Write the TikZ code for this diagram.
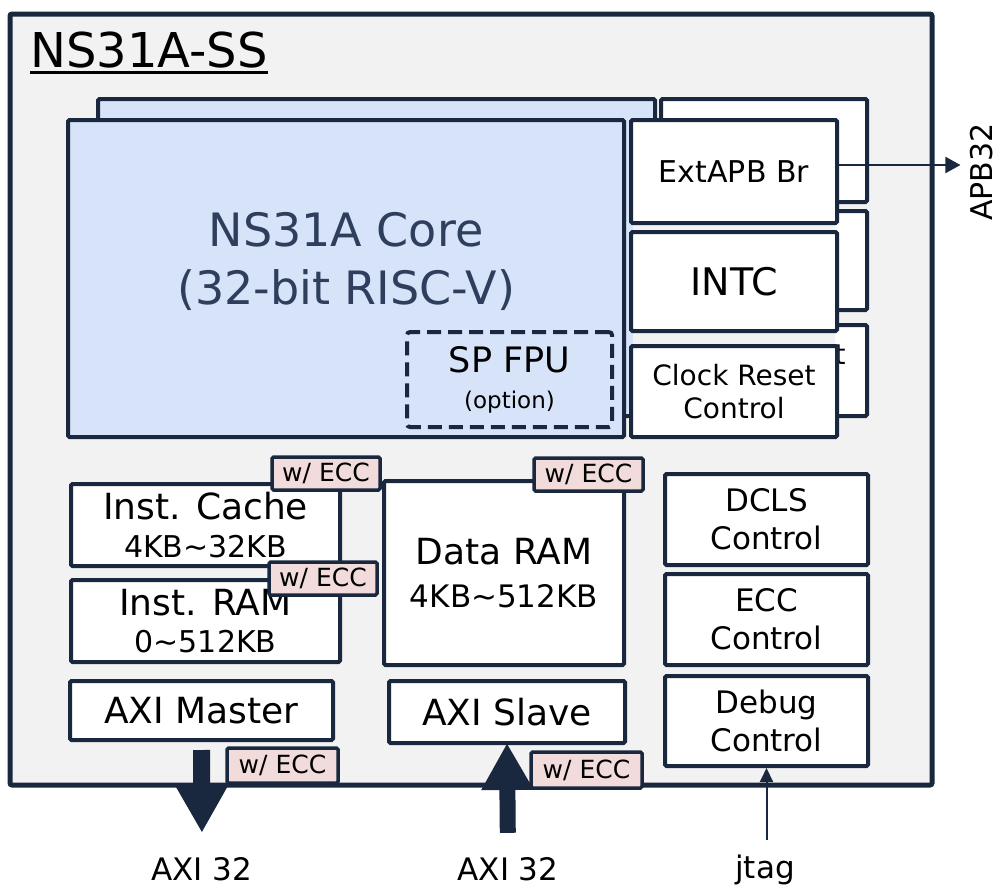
\documentclass[tikz,border=0pt]{standalone}
\usepackage{fontspec}
\setmainfont{DejaVu Sans}
\usetikzlibrary{arrows.meta}
\definecolor{navy}{RGB}{25,40,62}
\definecolor{bgray}{RGB}{242,242,242}
\definecolor{lblue}{RGB}{214,227,248}
\definecolor{pinkecc}{RGB}{242,220,219}
\definecolor{coretxt}{RGB}{46,62,92}
\newcommand\fsz[2]{\fontsize{#1}{#2}\selectfont}
\begin{document}
\begin{tikzpicture}[x=1pt,y=-1pt,
  blk/.style={draw=navy, line width=4pt, fill=white, inner sep=0pt, align=center, rounded corners=1.5pt},
  ecc/.style={draw=navy, line width=3.5pt, fill=pinkecc, inner sep=0pt, minimum width=108pt, minimum height=33pt, font=\fsz{25}{30}, rounded corners=1.5pt},
  lbl/.style={inner sep=0pt, font=\fsz{31}{37}},
  fat/.style={draw=navy, line width=17pt, -{Triangle[length=47pt,width=49pt]}},
  thin/.style={draw=navy, line width=2pt},
]
\useasboundingbox (0,0) rectangle (998,886);

% outer subsystem
\node[draw=navy, line width=5pt, fill=bgray, minimum width=922pt, minimum height=771pt, inner sep=0pt, rounded corners=2pt] (outer) at (471,399.5) {};
\node[anchor=base west, inner sep=0pt, font=\fsz{48}{56}] (title) at (30,67) {NS31A-SS};
\draw[line width=3pt] ([yshift=-5pt]title.base west) -- ([yshift=-5pt]title.base east);

% back (lockstep) copies
\node[blk, fill=lblue, minimum width=557pt, minimum height=317pt] (coreback) at (376.5,257.5) {};
\node[blk, minimum width=206pt, minimum height=103pt, font=\fsz{30}{36}] (extb) at (764,150.5) {ExtAPB Br};
\node[blk, minimum width=206pt, minimum height=99pt, font=\fsz{38}{44}] (intcb) at (764,260.5) {INTC};
\node[blk, minimum width=206pt, minimum height=91pt, font=\fsz{28}{33}] (crcb) at (764,370.5) {Clock Reset\\Control};
\fill[bgray] (633,118) rectangle (835,439);

% front core
\node[blk, fill=lblue, minimum width=556pt, minimum height=317pt] (core) at (346,278.5) {};
\node[inner sep=0pt, align=center, text=coretxt, font=\fsz{46}{58}] (coretext) at (346,261) {NS31A Core\\(32-bit RISC-V)};
\node[draw=navy, line width=4pt, dash pattern=on 14pt off 7pt, rounded corners=3pt, minimum width=205pt, minimum height=95pt, inner sep=0pt, align=center, font=\fsz{35}{36}] (fpu) at (509.5,379.5) {SP FPU\\{\fsz{23}{36}(option)}};

\node[blk, minimum width=206pt, minimum height=103pt, font=\fsz{30}{36}] (ext) at (734,171.5) {ExtAPB Br};
\node[blk, minimum width=206pt, minimum height=99pt, font=\fsz{38}{44}] (intc) at (734,281.5) {INTC};
\node[blk, minimum width=206pt, minimum height=91pt, font=\fsz{28}{33}] (crc) at (734,391.5) {Clock Reset\\Control};

% memories and bus interfaces
\node[blk, minimum width=269pt, minimum height=82pt, font=\fsz{36}{38}] (icache) at (205.5,525) {Inst. Cache\\{\fsz{30}{38}4KB\textasciitilde 32KB}};
\node[blk, minimum width=269pt, minimum height=82pt, font=\fsz{36}{37}] (iram) at (205.5,621) {Inst. RAM\\{\fsz{30}{37}0\textasciitilde 512KB}};
\node[blk, minimum width=240pt, minimum height=184pt, font=\fsz{36}{43}] (dram) at (504,573) {Data RAM\\{\fsz{31}{43}4KB\textasciitilde 512KB}};
\node[blk, minimum width=263pt, minimum height=59pt, font=\fsz{36}{42}] (axim) at (201.5,710.5) {AXI Master};
\node[blk, minimum width=236pt, minimum height=62pt, font=\fsz{36}{42}] (axis) at (507,712) {AXI Slave};

% control blocks
\node[blk, minimum width=203pt, minimum height=91pt, font=\fsz{31}{38}] (dcls) at (766.5,519.5) {DCLS\\Control};
\node[blk, minimum width=203pt, minimum height=91pt, font=\fsz{31}{38}] (eccc) at (766.5,619.5) {ECC\\Control};
\node[blk, minimum width=203pt, minimum height=90pt, font=\fsz{31}{38}] (debug) at (766.5,721) {Debug\\Control};

% ECC tags
\node[ecc] (t1) at (326,473.5) {w/ ECC};
\node[ecc] (t2) at (323,578.5) {w/ ECC};
\node[ecc, minimum width=109pt] (t3) at (588.5,474.5) {w/ ECC};
\node[ecc, minimum width=111pt, minimum height=35pt] (t4) at (282.5,765.5) {w/ ECC};
\node[ecc, minimum width=111pt, minimum height=36pt] (t5) at (586.5,770) {w/ ECC};

% external labels
\node[lbl, anchor=base] (axil) at (202,880) {AXI 32};
\node[lbl, anchor=base] (axir) at (508,880) {AXI 32};
\node[lbl, anchor=base] (jtag) at (765,878) {jtag};
\node[inner sep=0pt, rotate=90, font=\fsz{30}{36}] (apb) at (982,172) {APB32};

% connectors
\draw[fat, shorten <=8pt, shorten >=24pt] (axim.south) -- (axil.north);
\draw[fat, line width=16pt, shorten <=24pt, shorten >=-2pt] (axir.north) -- (axis.south);
\draw[thin, -{Triangle[length=14pt,width=13pt]}, shorten <=14pt] (debug.south |- jtag.north) -- (debug.south);
\coordinate (apbs) at ([yshift=6.5pt]ext.east);
\draw[thin, -{Triangle[length=15pt,width=16pt]}, shorten >=10pt] (apbs) -- (apbs -| apb.north);
\end{tikzpicture}
\end{document}
